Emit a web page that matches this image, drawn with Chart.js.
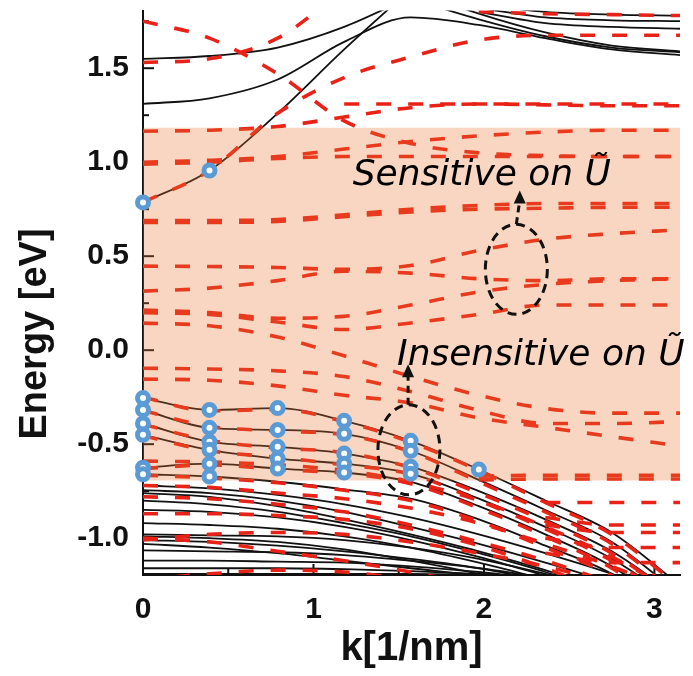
<!DOCTYPE html>
<html>
<head>
<meta charset="utf-8">
<script src="https://cdn.jsdelivr.net/npm/chart.js@4.4.1/dist/chart.umd.min.js"></script>
<style>
html,body{margin:0;padding:0;background:#fff;}
</style>
</head>
<body>
<canvas id="myChart" width="693" height="676"></canvas>
<script>
// k points shared by every band
const kGrid = [0, 0.39, 0.79, 1.18, 1.57, 1.97, 2.36, 2.75, 3.15];

const xTickValues = [0, 1, 2, 3];
const yTickValues = [-1.0, -0.5, 0.0, 0.5, 1.0, 1.5];

// band gap window (shaded)
const gapTop = 1.183;
const gapBottom = -0.693;

// solid black bands
const blackTop = [
  [1.55, 1.565, 1.61, 1.72, 1.88, null, null, null, null],
  [1.31, 1.34, 1.44, 1.64, 1.77, 1.73, 1.66, 1.60, 1.57],
  [0.786, 0.956, 1.26, 1.60, 1.92, null, null, null, null],
  [null, null, null, null, 1.87, 1.76, 1.67, 1.61, 1.585],
  [null, null, null, null, 1.92, 1.79, 1.69, 1.62, 1.59],
  [null, null, null, null, null, 1.84, 1.80, 1.785, 1.78],
  [null, null, null, null, null, 1.82, 1.77, 1.755, 1.75],
  [null, null, null, null, null, 1.80, 1.74, 1.72, 1.71]
];
const blackValence = [
  [-0.255, -0.318, -0.308, -0.376, -0.482, -0.635, -0.80, -0.97, -1.25],
  [-0.318, -0.413, -0.424, -0.445, -0.535, -0.69, -0.85, -1.02, -1.30],
  [-0.39, -0.487, -0.514, -0.55, -0.62, -0.75, -0.90, -1.07, -1.32],
  [-0.45, -0.53, -0.577, -0.604, -0.657, -0.79, -0.94, -1.11, -1.35],
  [-0.625, -0.604, -0.63, -0.651, -0.70, -0.83, -0.98, -1.15, -1.40],
  [-0.66, -0.672, -0.70, -0.74, -0.79, -0.90, -1.04, -1.19, -1.45]
];
const blackDeep = [
  [-0.72, -0.735, -0.77, -0.82, -0.89, -0.98, -1.08, -1.19, -1.33],
  [-0.745, -0.76, -0.80, -0.86, -0.94, -1.03, -1.13, -1.24, -1.38],
  [-0.76, -0.78, -0.83, -0.90, -0.98, -1.07, -1.17, -1.29, null],
  [-0.80, -0.82, -0.86, -0.92, -0.99, -1.08, -1.18, -1.30, null],
  [-0.85, -0.86, -0.89, -0.94, -1.01, -1.10, -1.20, null, null],
  [-0.92, -0.93, -0.95, -0.99, -1.05, -1.13, -1.22, null, null],
  [-0.98, -0.985, -0.99, -1.01, -1.05, -1.11, -1.19, -1.28, null],
  [-0.99, -1.0, -1.02, -1.06, -1.12, -1.19, -1.27, null, null],
  [-1.01, -1.02, -1.04, -1.07, -1.11, -1.16, -1.23, null, null],
  [-1.03, -1.05, -1.08, -1.12, -1.16, -1.20, -1.25, null, null],
  [-1.065, -1.07, -1.075, -1.09, -1.12, -1.16, -1.21, null, null],
  [-1.12, -1.12, -1.125, -1.13, -1.15, -1.18, -1.22, null, null],
  [-1.16, -1.16, -1.16, -1.165, -1.175, -1.19, -1.21, null, null],
  [-1.19, -1.19, -1.19, -1.19, -1.19, -1.195, -1.20, null, null]
];

// dashed red bands
const redTop = [
  [1.75, 1.66, 1.47, 1.22, 1.10, 1.05, 1.035, 1.03, 1.03],
  [1.53, 1.55, 1.66, 1.92, null, null, null, null, null],
  [0.786, 0.956, 1.26, 1.45, 1.56, 1.65, 1.675, 1.675, 1.675],
  [1.165, 1.17, 1.19, 1.24, 1.29, 1.31, 1.31, 1.31, 1.31],
  [null, null, null, 1.31, 1.31, 1.31, 1.305, 1.30, 1.30],
  [null, null, null, null, null, 1.80, 1.79, 1.785, 1.78],
  [1.0, 1.01, 1.03, 1.07, 1.11, 1.14, 1.16, 1.17, 1.17],
  [0.99, 1.0, 1.02, 1.03, 1.03, 1.03, 1.03, 1.03, 1.03]
];
const redGap = [
  [0.69, 0.69, 0.695, 0.72, 0.75, 0.77, 0.78, 0.78, 0.78],
  [0.68, 0.68, 0.685, 0.71, 0.735, 0.75, 0.755, 0.76, 0.76],
  [0.447, 0.445, 0.44, 0.43, 0.45, 0.53, 0.59, 0.62, 0.64],
  [0.314, 0.33, 0.37, 0.42, 0.41, 0.38, 0.37, 0.38, 0.38],
  [0.213, 0.20, 0.17, 0.18, 0.24, 0.31, 0.35, 0.37, 0.38],
  [0.20, 0.19, 0.15, 0.11, 0.145, 0.19, 0.24, 0.24, 0.24],
  [0.144, 0.13, 0.07, -0.03, -0.14, -0.24, -0.31, -0.335, -0.335],
  [-0.096, -0.10, -0.11, -0.14, -0.22, -0.32, -0.39, -0.39, -0.38],
  [-0.154, -0.16, -0.19, -0.24, -0.28, -0.36, -0.41, -0.46, -0.51]
];
const redValence = [
  [-0.25, -0.323, -0.315, -0.38, -0.49, -0.64, -0.81, -0.98, -1.26],
  [-0.322, -0.405, -0.43, -0.45, -0.54, -0.70, -0.86, -1.03, -1.31],
  [-0.395, -0.48, -0.52, -0.545, -0.625, -0.76, -0.91, -1.08, -1.33],
  [-0.455, -0.535, -0.57, -0.61, -0.66, -0.80, -0.95, -1.12, -1.36],
  [-0.63, -0.61, -0.635, -0.655, -0.71, -0.84, -0.99, -1.16, -1.41],
  [-0.665, -0.68, -0.705, -0.745, -0.80, -0.91, -1.05, -1.20, -1.46],
  [-0.59, -0.595, -0.61, -0.64, -0.70, -0.80, -0.94, -1.10, -1.30],
  [null, null, null, null, null, -0.67, -0.665, -0.665, -0.665],
  [null, null, null, null, null, -0.69, -0.685, -0.685, -0.685]
];
const redDeep = [
  [-0.72, -0.73, -0.76, -0.79, -0.84, -0.92, -1.03, -1.15, -1.30],
  [-0.78, -0.79, -0.82, -0.86, -0.93, -1.02, -1.12, -1.24, -1.38],
  [-0.87, -0.87, -0.88, -0.90, -0.95, -1.04, -1.16, -1.30, null],
  [-1.0, -1.02, -1.07, -1.12, -1.18, -1.25, null, null, null],
  [-1.01, -0.98, -0.97, -0.98, -1.02, -1.08, -1.15, -1.24, null],
  [-1.22, -1.19, -1.17, -1.18, -1.22, null, null, null, null],
  [null, null, null, null, null, null, -0.81, -0.81, -0.81],
  [null, null, null, null, null, null, -0.89, -0.93, -0.93],
  [null, null, null, null, null, null, -0.93, -0.97, -0.97],
  [null, null, null, null, null, null, -1.0, -1.05, -1.05],
  [null, null, null, null, null, null, -1.08, -1.13, -1.13]
];

// marked states (blue circles)
const circleK = [0, 0, 0, 0, 0, 0,
  0.39, 0.39, 0.39, 0.39, 0.39, 0.39,
  0.79, 0.79, 0.79, 0.79, 0.79,
  1.18, 1.18, 1.18, 1.18, 1.18,
  1.57, 1.57, 1.57, 1.57,
  1.97, 0, 0.39];
const circleE = [-0.255, -0.318, -0.39, -0.45, -0.625, -0.66,
  -0.318, -0.413, -0.487, -0.53, -0.604, -0.672,
  -0.308, -0.424, -0.514, -0.577, -0.63,
  -0.376, -0.445, -0.55, -0.604, -0.651,
  -0.482, -0.535, -0.62, -0.657,
  -0.635, 0.786, 0.956];

function toPoints(vals){
  return kGrid.map(function(k,i){ return {x:k, y:vals[i]}; });
}

var datasets = [];
[blackTop, blackValence, blackDeep].forEach(function(group){
  group.forEach(function(b){
    datasets.push({type:'line', data:toPoints(b), borderColor:'#111', borderWidth:1.8,
      pointRadius:0, fill:false, cubicInterpolationMode:'monotone', order:4});
  });
});
[redTop, redGap, redValence, redDeep].forEach(function(group){
  group.forEach(function(b){
    datasets.push({type:'line', data:toPoints(b), borderColor:'rgb(232,34,22)', borderWidth:3.6,
      borderDash:[15,17], borderCapStyle:'butt', pointRadius:0, fill:false,
      cubicInterpolationMode:'monotone', order:3});
  });
});
// shaded window: top edge filled down to bottom edge
datasets.push({type:'line', data:[{x:0,y:gapTop},{x:3.15,y:gapTop}], borderWidth:0, pointRadius:0,
  fill:'+1', backgroundColor:'rgba(232,120,50,0.3)', order:2});
datasets.push({type:'line', data:[{x:0,y:gapBottom},{x:3.15,y:gapBottom}], borderWidth:0, pointRadius:0,
  fill:false, order:2});
datasets.push({type:'scatter', data:circleK.map(function(k,i){ return {x:k, y:circleE[i]}; }),
  pointRadius:5.5, pointBorderWidth:5, pointBorderColor:'#5B9BD5', pointBackgroundColor:'#fff',
  clip:false, order:1});

const boldFont = '"Liberation Sans", Arial, sans-serif';

const notesPlugin = {
  id:'notes',
  beforeDatasetsDraw(chart){
    const ctx = chart.ctx, xs = chart.scales.x, ys = chart.scales.y;
    const a = chart.chartArea;
    ctx.save();
    ctx.strokeStyle = '#111';
    ctx.lineWidth = 2;
    for (let v = -1.0; v <= 1.75; v += 0.25) {
      const y = ys.getPixelForValue(v);
      const len = Math.abs(v*2 - Math.round(v*2)) < 1e-6 ? 11 : 6;
      ctx.beginPath(); ctx.moveTo(a.left, y); ctx.lineTo(a.left+len, y); ctx.stroke();
    }
    for (let v = 0; v <= 3.0; v += 0.5) {
      const x = xs.getPixelForValue(v);
      const len = Math.abs(v - Math.round(v)) < 1e-6 ? 11 : 6;
      ctx.beginPath(); ctx.moveTo(x, a.bottom); ctx.lineTo(x, a.bottom-len); ctx.stroke();
    }
    ctx.restore();
  },
  afterDraw(chart){
    const ctx = chart.ctx, xs = chart.scales.x, ys = chart.scales.y;
    ctx.save();
    // y axis title
    ctx.save();
    ctx.translate(36, 334);
    ctx.rotate(-Math.PI/2);
    ctx.font = 'bold 38px ' + boldFont;
    ctx.fillStyle = '#111';
    ctx.textAlign = 'center';
    ctx.textBaseline = 'middle';
    ctx.fillText('Energy [eV]', 0, 0);
    ctx.restore();
    // dashed ellipses
    ctx.strokeStyle = '#111';
    ctx.lineWidth = 3;
    ctx.setLineDash([9,6]);
    [[2.19, 0.43], [1.56, -0.53]].forEach(function(c){
      const cx = xs.getPixelForValue(c[0]), cy = ys.getPixelForValue(c[1]);
      ctx.beginPath();
      ctx.ellipse(cx, cy, 31, 45, 0, 0, Math.PI*2);
      ctx.stroke();
    });
    // arrows
    function arrow(k0, e0, k1, e1){
      const x0 = xs.getPixelForValue(k0), y0 = ys.getPixelForValue(e0);
      const x1 = xs.getPixelForValue(k1), y1 = ys.getPixelForValue(e1);
      ctx.setLineDash([7,5]);
      ctx.lineWidth = 3;
      ctx.beginPath(); ctx.moveTo(x0, y0); ctx.lineTo(x1, y1 + 10); ctx.stroke();
      ctx.setLineDash([]);
      ctx.fillStyle = '#111';
      ctx.beginPath(); ctx.moveTo(x1, y1); ctx.lineTo(x1-6, y1+13); ctx.lineTo(x1+6, y1+13); ctx.closePath(); ctx.fill();
    }
    arrow(2.19, 0.67, 2.21, 0.85);
    arrow(1.555, -0.29, 1.555, -0.075);
    // labels
    ctx.fillStyle = '#000';
    ctx.font = 'italic 36px "DejaVu Sans", sans-serif';
    ctx.textBaseline = 'alphabetic';
    ctx.fillText('Sensitive on Ũ', xs.getPixelForValue(1.23), ys.getPixelForValue(0.88));
    ctx.fillText('Insensitive on Ũ', xs.getPixelForValue(1.49), ys.getPixelForValue(-0.08));
    ctx.restore();
  }
};

var chart = new Chart(document.getElementById('myChart'), {
  type:'line',
  data:{datasets:datasets},
  options:{
    responsive:false,
    animation:false,
    events:[],
    layout:{padding:{top:7, right:13, left:0, bottom:0}},
    plugins:{legend:{display:false}, tooltip:{enabled:false}},
    scales:{
      x:{
        type:'linear', min:0, max:3.15,
        afterBuildTicks:function(s){ s.ticks = xTickValues.map(function(v){ return {value:v}; }); },
        afterFit:function(s){ s.height = 101; s.paddingLeft = 0; s.paddingRight = 0; },
        grid:{drawOnChartArea:false, drawTicks:false},
        border:{color:'#111', width:2},
        ticks:{color:'#111', padding:17, font:{family:boldFont, size:30, weight:'bold'},
          callback:function(v){ return String(v); }},
        title:{display:true, text:'k[1/nm]', color:'#111', padding:{top:0, bottom:3},
          font:{family:boldFont, size:40, weight:'bold'}}
      },
      y:{
        type:'linear', min:-1.196, max:1.807,
        afterBuildTicks:function(s){ s.ticks = yTickValues.map(function(v){ return {value:v}; }); },
        afterFit:function(s){ s.width = 143; s.paddingTop = 0; s.paddingBottom = 0; },
        grid:{drawOnChartArea:false, drawTicks:false},
        border:{color:'#111', width:2},
        ticks:{color:'#111', padding:14, font:{family:boldFont, size:30, weight:'bold'},
          callback:function(v){ return Number(v).toFixed(1); }},
        title:{display:false}
      }
    }
  },
  plugins:[notesPlugin]
});
</script>
</body>
</html>
